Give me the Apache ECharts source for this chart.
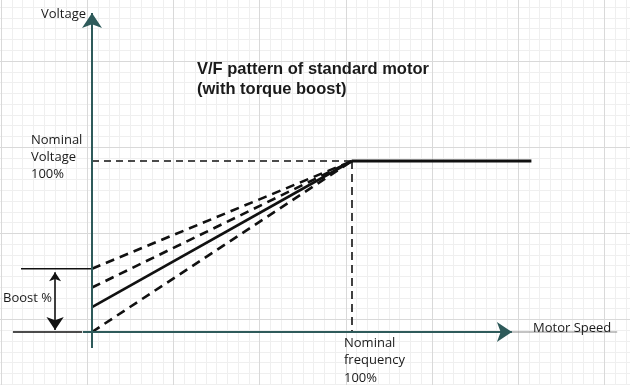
<!DOCTYPE html>
<html>
<head>
<meta charset="utf-8">
<script src="https://cdn.jsdelivr.net/npm/echarts@6/dist/echarts.min.js"></script>
<style>html,body{margin:0;padding:0;background:#fff}#c{width:630px;height:385px}</style>
</head>
<body>
<div id="c"></div>
<script>
// ---- data ----
const nominalPoint = [100, 100];          // [frequency %, voltage %]
const flatEndSpeed = 169;                 // end of constant-voltage segment
const boostStarts = [37, 26, 14.6, 0];    // voltage at zero speed for each V/F line
const boostLineKinds = ['dashed', 'dashed', 'solid', 'dashed'];
const boostBracketTop = [-27.3, 0];       // x range of top bracket line (at top boost)
const boostBracketBottom = [-30.4, -3.8]; // x range of bottom bracket line (at 0)
const boostArrowX = -14.2;
const boostArrowY = [35, 1.2];
const speedAxis = [-3.5, 161.5];          // x-axis arrow line extent
const voltageAxis = [-9.4, 186.5];        // y-axis arrow line extent
const speedTail = [161.5, 202];           // thin line under "Motor Speed"

const chart = echarts.init(document.getElementById('c'), null, {renderer: 'canvas'});

const MINOR = 10.77, MAJOR = MINOR * 8;
const axisColor = '#2e5a5a';
const ink = '#111';
const XU = 2.6, YU = 1.71;               // px per data unit
const MAIN = 4;                          // index of the chart grid

const seg = (pts, style, z) => ({
  type: 'line', xAxisIndex: MAIN, yAxisIndex: MAIN, symbol: 'none', silent: true,
  data: pts, lineStyle: style, z: z || 4
});

const series = [];
boostStarts.forEach((b, i) => {
  series.push(seg([[0, b], nominalPoint],
    {color: ink, width: 2.6, type: boostLineKinds[i] === 'dashed' ? [9, 6] : 'solid'}, 5));
});
series.push(seg([nominalPoint, [flatEndSpeed, nominalPoint[1]]], {color: ink, width: 3}, 5));
series.push(seg([[0, nominalPoint[1]], nominalPoint], {color: ink, width: 1.5, type: [7, 5]}));
series.push(seg([nominalPoint, [nominalPoint[0], 0]], {color: ink, width: 1.6, type: [8, 5]}));
series.push(seg([[boostBracketTop[0], boostStarts[0]], [boostBracketTop[1], boostStarts[0]]], {color: ink, width: 1.5}));
series.push(seg([[boostBracketBottom[0], 0], [boostBracketBottom[1], 0]], {color: ink, width: 1.5}));
series.push(seg([[speedTail[0], 0], [speedTail[1], 0]], {color: '#888', width: 1}));
series.push({
  type: 'lines', coordinateSystem: 'cartesian2d', xAxisIndex: MAIN, yAxisIndex: MAIN,
  symbol: ['arrow', 'arrow'], symbolSize: [9, 13], silent: true,
  data: [{coords: [[boostArrowX, boostArrowY[0]], [boostArrowX, boostArrowY[1]]]}],
  lineStyle: {color: ink, width: 1.6, opacity: 1}, z: 4
});
series.push({
  type: 'lines', coordinateSystem: 'cartesian2d', xAxisIndex: MAIN, yAxisIndex: MAIN,
  symbol: ['none', 'arrow'], symbolSize: [10, 15], silent: true,
  data: [
    {coords: [[speedAxis[0], 0], [speedAxis[1], 0]]},
    {coords: [[0, voltageAxis[0]], [0, voltageAxis[1]]]}
  ],
  lineStyle: {color: axisColor, width: 2, opacity: 1}, z: 6
});

const txt = (s, x, y, font) => ({
  type: 'text', x: x, y: y, z: 10,
  style: {text: s, fill: '#1a1a1a', font: font || '13px "Open Sans"', verticalAlign: 'middle', align: 'left'}
});
const TF = 'bold 16.5px "Liberation Sans"';

const bgAxis = (grid, max, color, inverse, z) => ({
  gridIndex: grid, type: 'value', min: 0, max: max, interval: 1, inverse: !!inverse, z: z,
  axisLine: {show: false}, axisTick: {show: false}, axisLabel: {show: false},
  splitLine: {show: !!color, lineStyle: {color: color || '#fff', width: 1}}
});

chart.setOption({
  animation: false,
  backgroundColor: '#fff',
  grid: [
    {left: 1.2, top: 0, width: MINOR * 58, height: 385},      // minor verticals
    {left: 0, top: 7.15, width: 630, height: MINOR * 35},     // minor horizontals
    {left: 1.2, top: 0, width: MAJOR * 7, height: 385},       // major verticals
    {left: 0, top: 61, width: 630, height: MAJOR * 3},        // major horizontals
    {left: 92 - 31 * XU, top: 332 - 187 * YU, width: 233 * XU, height: 197 * YU}
  ],
  xAxis: [
    bgAxis(0, 58, '#efefef', false, 0),
    bgAxis(1, 1, null, false, 0),
    bgAxis(2, 7, '#d9d9d9', false, 1),
    bgAxis(3, 1, null, false, 1),
    {gridIndex: MAIN, type: 'value', min: -31, max: 202, show: false}
  ],
  yAxis: [
    bgAxis(0, 1, null, true, 0),
    bgAxis(1, 35, '#efefef', true, 0),
    bgAxis(2, 1, null, true, 1),
    bgAxis(3, 3, '#d9d9d9', true, 1),
    {gridIndex: MAIN, type: 'value', min: -10, max: 187, show: false}
  ],
  series: series,
  graphic: [
    txt('Voltage', 41, 14),
    txt('V/F pattern of standard motor', 197, 69, TF),
    txt('(with torque boost)', 197, 89, TF),
    txt('Nominal', 31, 140),
    txt('Voltage', 31, 157),
    txt('100%', 31, 174),
    txt('Boost %', 3, 298),
    txt('Nominal', 344, 343),
    txt('frequency', 344, 360.5),
    txt('100%', 344, 378),
    txt('Motor Speed', 533, 328)
  ]
});
</script>
</body>
</html>
